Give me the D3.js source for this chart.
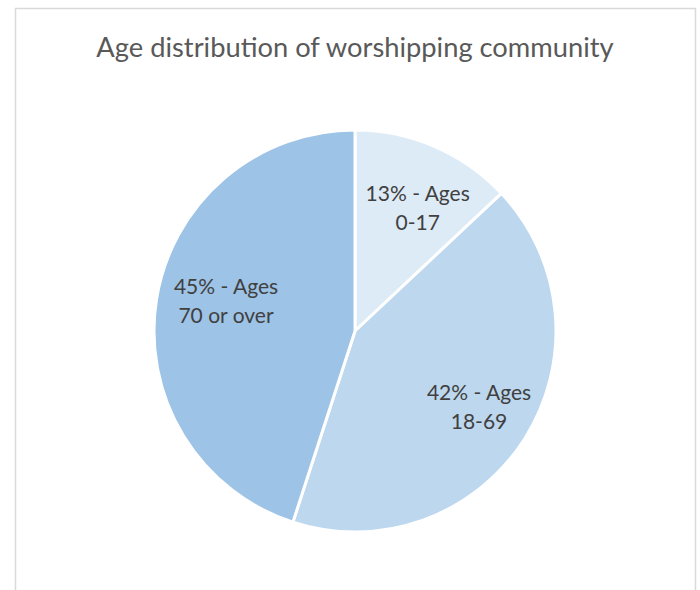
<!DOCTYPE html>
<html>
<head>
<meta charset="utf-8">
<script src="https://cdn.jsdelivr.net/npm/d3@7"></script>
<style>
  html, body { margin: 0; padding: 0; background: #ffffff; }
  svg { display: block; }
</style>
</head>
<body>
<svg id="chart" width="700" height="590"></svg>
<script>
const categories = ["0-17", "18-69", "70 or over"];
const values = [13, 42, 45];
const labelLines = [["13% - Ages", "0-17"], ["42% - Ages", "18-69"], ["45% - Ages", "70 or over"]];
const colors = ["#ddebf7", "#bdd7ee", "#9dc3e6"];
const title = "Age distribution of worshipping community";

const svg = d3.select("#chart");
const W = 700, H = 590;

// chart border
svg.append("rect")
  .attr("x", 15.5).attr("y", 8.5)
  .attr("width", 680).attr("height", 600)
  .attr("fill", "#ffffff")
  .attr("stroke", "#d9d9d9")
  .attr("stroke-width", 1.5);

svg.append("text")
  .attr("x", 355).attr("y", 57)
  .attr("text-anchor", "middle")
  .attr("font-family", "Lato, 'Open Sans', sans-serif")
  .attr("font-size", 27.3)
  .attr("fill", "#595959")
  .text(title);

const cx = 355, cy = 331, R = 201;
const g = svg.append("g").attr("transform", `translate(${cx},${cy})`);

const pie = d3.pie().sort(null).value(d => d)(values);
const arc = d3.arc().innerRadius(0).outerRadius(R);
const labelArc = d3.arc().innerRadius(R * 0.66).outerRadius(R * 0.66);
// best-fit style nudges applied on top of the arc centroid
const nudge = [[10, 0], [12, 6], [2, -8]];

g.selectAll("path.slice")
  .data(pie)
  .join("path")
  .attr("class", "slice")
  .attr("d", arc)
  .attr("fill", (d, i) => colors[i])
  .attr("stroke", "#ffffff")
  .attr("stroke-width", 3)
  .attr("stroke-linejoin", "round");

const lab = g.selectAll("text.lab")
  .data(pie)
  .join("text")
  .attr("class", "lab")
  .attr("text-anchor", "middle")
  .attr("font-family", "Lato, 'Open Sans', sans-serif")
  .attr("font-size", 21)
  .attr("fill", "#404040")
  .attr("transform", (d, i) => {
    const c = labelArc.centroid(d);
    return `translate(${c[0] + nudge[i][0]},${c[1] + nudge[i][1]})`;
  });

lab.each(function(d, i) {
  const t = d3.select(this);
  labelLines[i].forEach((line, j) => {
    t.append("tspan")
      .attr("x", 0)
      .attr("y", (j - 0.5) * 29 + 6.5)
      .text(line);
  });
});
</script>
</body>
</html>
